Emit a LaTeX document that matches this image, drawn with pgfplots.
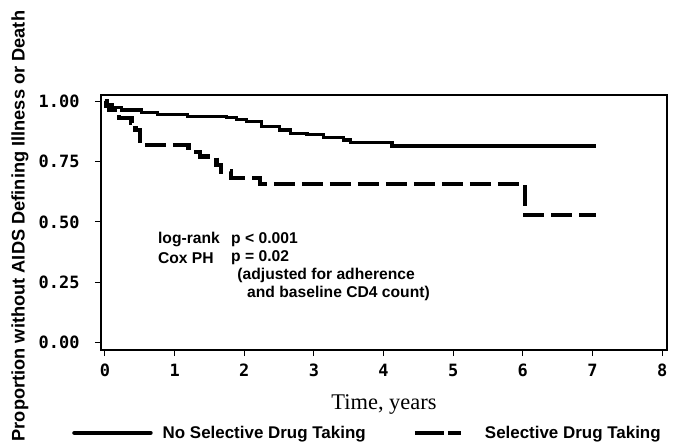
\documentclass[border=0pt]{standalone}
\usepackage{fontspec}
\setmainfont{Liberation Sans}
\newfontfamily\tickfont{DejaVu Sans Mono}
\newfontfamily\timesfont{Liberation Serif}
\usepackage{pgfplots}
\pgfplotsset{compat=1.18}

% Kaplan-Meier estimates (time in years, proportion)
\pgfplotstableread{
t      s
0.00   1.000
0.04   0.985
0.10   0.973
0.24   0.963
0.53   0.953
0.76   0.945
1.19   0.935
1.75   0.931
1.89   0.923
2.03   0.915
2.25   0.894
2.51   0.880
2.66   0.866
2.90   0.860
3.14   0.848
3.42   0.839
3.52   0.829
4.12   0.814
7.05   0.814
}\noselective

\pgfplotstableread{
t      s
0.00   1.000
0.02   0.980
0.06   0.963
0.20   0.930
0.38   0.910
0.44   0.880
0.50   0.818
1.20   0.790
1.36   0.770
1.60   0.736
1.67   0.708
1.81   0.683
2.23   0.656
6.03   0.529
7.05   0.529
}\selective

\begin{document}
\begin{tikzpicture}
\begin{axis}[
    name=ax,
    width=566bp, height=255bp, scale only axis,
    xmin=-0.057, xmax=8.07,
    ymin=-0.03, ymax=1.025,
    axis line style={line width=1.2bp},
    tick align=outside,
    xtick pos=left, ytick pos=left,
    major tick length=6bp,
    tick style={black, line width=1bp},
    xtick={0,1,2,3,4,5,6,7,8},
    xticklabels={0,1,2,3,4,5,6,7,8},
    ytick={0,0.25,0.5,0.75,1},
    yticklabels={0.00,0.25,0.50,0.75,1.00},
    ticklabel style={font=\tickfont\bfseries\fontsize{17}{20}\selectfont},
    xticklabel style={anchor=center, yshift=-14bp},
    yticklabel style={anchor=east, xshift=-12bp},
    xlabel={Time, years},
    xlabel style={font=\timesfont\fontsize{22.5}{26}\selectfont,
        at={(axis description cs:0.5,-0.215)}, anchor=center},
    ylabel={Proportion without AIDS Defining Illness or Death},
    ylabel style={font=\bfseries\fontsize{18.3}{21}\selectfont,
        at={(axis description cs:-0.143,0.486)}, anchor=center, rotate=0},
    legend columns=2,
    legend cell align=left,
    legend style={draw=none, fill=none, inner sep=0pt,
        at={(axis description cs:-0.0512,-0.325)}, anchor=west,
        font=\bfseries\fontsize{17}{20}\selectfont,
        /tikz/column 1/.style={column sep=8bp},
        /tikz/column 2/.style={column sep=45bp},
        /tikz/column 3/.style={column sep=20bp}},
]
\addplot[const plot, line width=3.2bp, black,
    legend image code/.code={\draw[line width=4.5bp, line cap=round] (0bp,0bp) -- (76bp,0bp);}]
    table[x=t, y=s] {\noselective};
\addlegendentry{No Selective Drug Taking}
\addplot[const plot, line width=4.3bp, black, dash pattern=on 21bp off 7bp,
    legend image code/.code={\draw[line width=4.3bp, dash pattern=on 29bp off 4bp on 13bp off 20bp] (0bp,0bp) -- (46bp,0bp);}]
    table[x=t, y=s] {\selective};
\addlegendentry{Selective Drug Taking}

\begin{scope}[every node/.style={inner sep=0pt, anchor=west,
    font=\bfseries\fontsize{15.7}{18}\selectfont}]
\node at (axis cs:0.76,0.426) {log-rank};
\node at (axis cs:1.81,0.426) {p < 0.001};
\node at (axis cs:0.76,0.351) {Cox PH};
\node at (axis cs:1.81,0.351) {p = 0.02};
\node at (axis cs:1.90,0.277) {(adjusted for adherence};
\node at (axis cs:2.04,0.202) {and baseline CD4 count)};
\end{scope}
\end{axis}
\pgfresetboundingbox
\path ([shift={(-101bp,-97bp)}]ax.south west) rectangle ([shift={(8bp,95bp)}]ax.north east);
\end{tikzpicture}
\end{document}
